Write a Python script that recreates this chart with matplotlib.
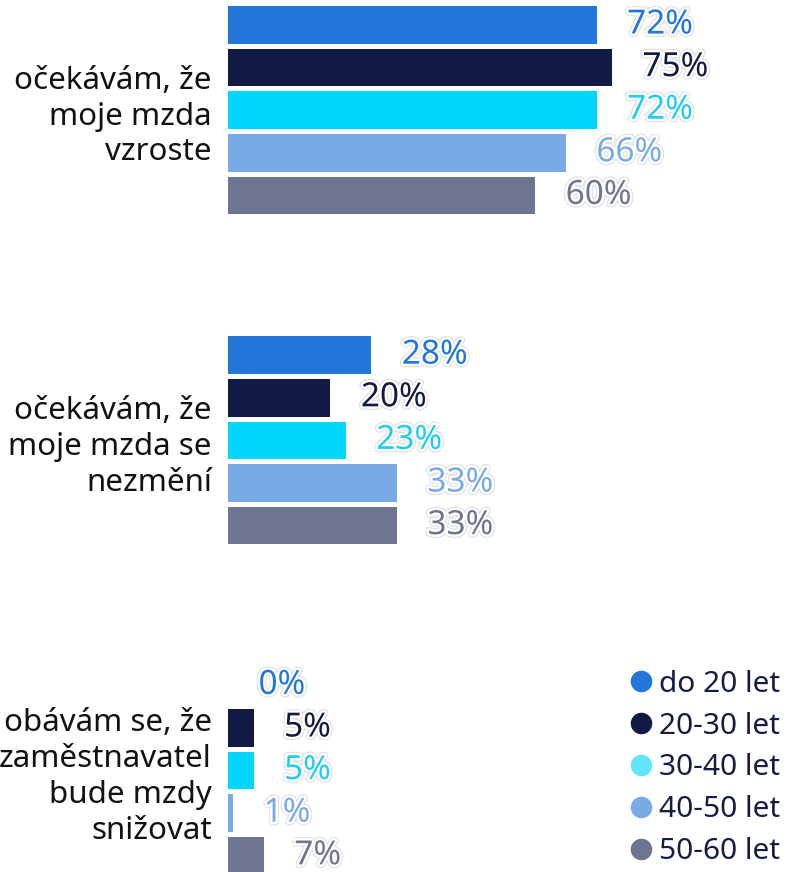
import numpy as np
import matplotlib.pyplot as plt
import matplotlib.patheffects as pe
from matplotlib.lines import Line2D

plt.rcParams["font.family"] = ["Noto Sans", "DejaVu Sans"]

categories = [
    "očekávám, že\nmoje mzda\nvzroste",
    "očekávám, že\nmoje mzda se\nnezmění",
    "obávám se, že\nzaměstnavatel\nbude mzdy\nsnižovat",
]
series = ["do 20 let", "20-30 let", "30-40 let", "40-50 let", "50-60 let"]
values = [
    [72, 28, 0],   # do 20 let
    [75, 20, 5],   # 20-30 let
    [72, 23, 5],   # 30-40 let
    [66, 33, 1],   # 40-50 let
    [60, 33, 7],   # 50-60 let
]

bar_colors = ["#2176d9", "#111a42", "#00d5fc", "#7aaae6", "#6e7590"]
label_colors = ["#2176d9", "#111a42", "#1fcdf0", "#7aaae6", "#6e7590"]
legend_colors = ["#2176d9", "#111a42", "#62e4ff", "#7aaae6", "#6e7590"]

GROUP_GAP = 7.75
BAR_H = 0.88

fig = plt.figure(figsize=(7.86, 8.72), dpi=100)
ax = fig.add_axes([0.29, 0.0, 0.71, 1.0])

halo = [pe.Stroke(linewidth=5, foreground="#dedede"),
        pe.Stroke(linewidth=3.5, foreground="white"),
        pe.Normal()]

for i, name in enumerate(series):
    ys = np.arange(len(categories)) * GROUP_GAP + i
    ax.barh(ys, values[i], height=BAR_H, color=bar_colors[i], label=name)
    for y, v in zip(ys, values[i]):
        ax.annotate(f"{v}%", xy=(v, y), xytext=(22, 0), textcoords="offset points",
                    ha="left", va="center", fontsize=24, color=label_colors[i],
                    path_effects=halo)

ax.set_xlim(0, 109)
ax.set_ylim(19.88, -0.587)

ax.set_yticks(np.arange(len(categories)) * GROUP_GAP + 2)
ax.set_yticklabels(categories, fontsize=22.5, color="#111111", linespacing=1.25)
ax.tick_params(axis="y", length=0, pad=11.5)
ax.set_xticks([])
for s in ax.spines.values():
    s.set_visible(False)

handles = [Line2D([], [], marker="o", linestyle="", markersize=14.5,
                  markerfacecolor=c, markeredgecolor=c) for c in legend_colors]
leg = fig.legend(handles, series, loc="lower right", bbox_to_anchor=(1.0, 0.0),
                 frameon=False, fontsize=21.5, handletextpad=0.05, labelspacing=0.43,
                 handlelength=1.1, borderaxespad=0.1, borderpad=0.1)
for t in leg.get_texts():
    t.set_color("#141c44")

fig.savefig("out.png", dpi=100)
